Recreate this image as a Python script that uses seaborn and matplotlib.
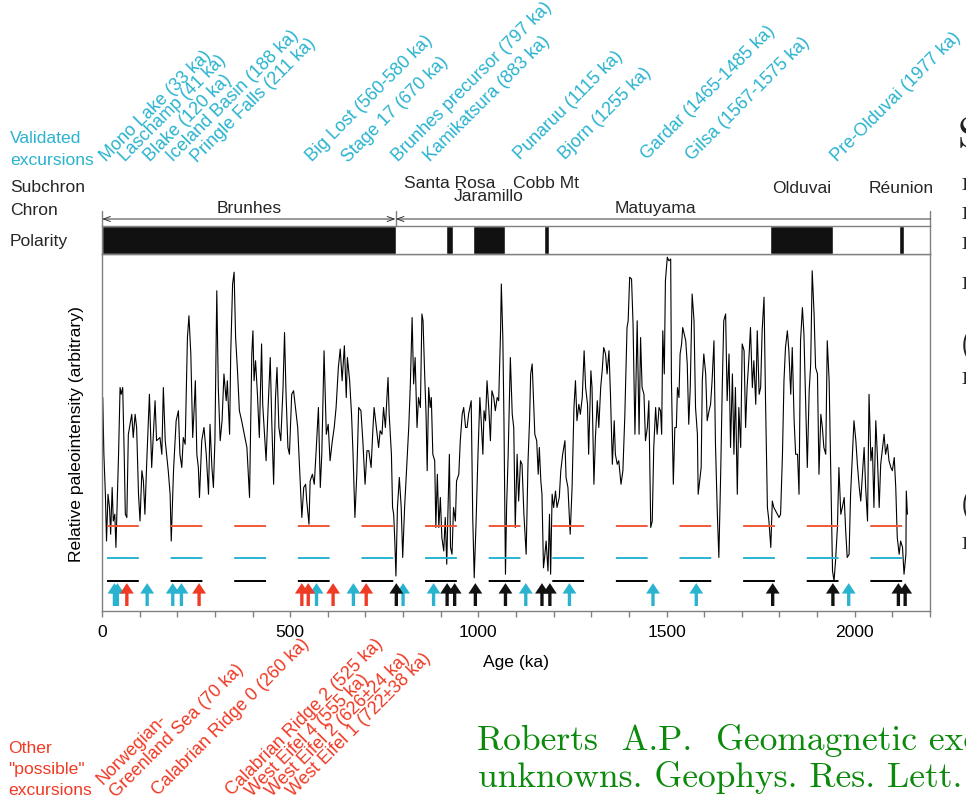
#%% Biblioteke
import numpy as np
import pandas as pd
import matplotlib
matplotlib.use('Agg')
import matplotlib.pyplot as plt
import matplotlib.transforms as mtransforms
from matplotlib.ticker import MultipleLocator
import seaborn as sns

#%% Podaci - relativni paleointenzitet (ocitano sa slike), po segmentima
age_a = [1, 2, 5, 9, 12, 16, 20, 23, 27, 30,
         34, 37, 41, 44, 48, 51, 55, 59, 62, 66,
         70, 79, 83, 88, 92, 97, 101, 106, 110, 114,
         119, 126, 132, 141, 145, 154, 159, 163, 168, 176,
         181, 184, 190, 197, 203, 207, 212, 216, 221, 227,
         231, 236, 241, 245, 248, 252, 256, 259, 265, 271,
         277, 283, 287, 292, 296, 300, 305, 309, 314, 319,
         324, 330, 333, 339, 342, 347, 351, 355, 360, 365,
         371, 378, 385, 392, 398, 401, 404, 408, 413, 418,
         424, 427, 433, 436, 441, 447, 451, 456, 461, 465,
         470, 475, 481, 485, 489, 494, 498, 504, 509, 514,
         520, 525, 531, 536, 541, 544, 550, 553, 559, 564,
         569, 575, 580, 584, 590, 596, 601, 606, 612, 617,
         622, 628, 633, 638, 644, 649, 652, 658, 663, 667,
         672, 677, 682, 688, 693, 699, 704, 709, 715, 720,
         723]
val_a = [3.74, 5.98, 4.39, 3.27, 1.96, 3.27, 2.90, 2.15, 3.46, 2.52,
         2.71, 1.78, 3.27, 4.39, 6.26, 6.07, 6.26, 4.39, 2.71, 2.62,
         4.95, 5.51, 4.86, 5.51, 5.14, 3.27, 2.52, 3.93, 3.64, 2.71,
         4.21, 6.07, 4.02, 5.89, 4.77, 4.86, 4.39, 6.26, 4.77, 3.93,
         3.27, 1.96, 3.93, 5.33, 5.61, 4.39, 4.02, 4.86, 4.67, 7.66,
         8.27, 7.20, 4.86, 5.70, 6.45, 4.39, 4.02, 3.18, 4.77, 5.14,
         4.39, 3.27, 5.23, 4.02, 3.46, 4.77, 8.97, 6.26, 4.77, 5.33,
         6.64, 5.89, 6.45, 4.95, 7.20, 9.16, 9.49, 7.66, 6.73, 5.61,
         5.33, 4.95, 4.58, 3.18, 7.20, 7.85, 6.45, 7.01, 6.07, 4.86,
         7.48, 5.79, 4.77, 4.21, 5.61, 7.10, 5.33, 3.55, 5.98, 6.82,
         5.14, 4.77, 6.26, 7.80, 6.07, 4.58, 4.39, 6.07, 6.17, 5.70,
         5.14, 4.02, 2.62, 3.46, 3.55, 3.08, 2.43, 3.64, 3.83, 3.55,
         4.49, 5.70, 3.46, 4.39, 7.29, 4.95, 5.23, 4.21, 4.77, 5.14,
         5.70, 6.82, 7.34, 6.45, 7.43, 5.98, 7.10, 6.45, 5.51, 4.39,
         2.62, 3.83, 5.70, 5.61, 4.77, 3.55, 4.49, 4.49, 4.02, 5.14,
         5.70]

age_b = [735, 739, 744, 748, 753, 757, 760, 763, 769, 772,
         775, 778, 781, 785, 790, 795, 799, 804, 810, 815,
         819, 824, 828, 832, 837, 841, 846, 850, 853, 857,
         861, 864, 868, 872, 875, 879, 884, 887, 891, 895,
         899, 903, 908, 912, 916, 919, 923, 926, 930, 934,
         939, 942, 948, 952, 957, 961, 966, 970, 974, 981,
         985, 989, 994, 999, 1004, 1008, 1012, 1015, 1019, 1023,
         1028, 1032, 1036, 1041, 1045, 1050, 1054, 1059, 1061, 1065,
         1068, 1072, 1075, 1079, 1083, 1085, 1090, 1094, 1098, 1103,
         1107, 1112, 1116, 1121, 1127, 1132, 1136, 1139, 1143, 1146,
         1150, 1155, 1159, 1162, 1166, 1169, 1173, 1176, 1180, 1185,
         1189, 1192, 1196, 1200, 1205, 1209, 1215, 1219, 1224, 1230,
         1233, 1238, 1244, 1249, 1254, 1258, 1262, 1267, 1271, 1276,
         1281, 1285, 1290, 1293, 1299, 1302, 1307, 1311, 1316, 1320,
         1325, 1329, 1333, 1338, 1342, 1347, 1351, 1356, 1361, 1364,
         1369, 1373, 1379, 1384, 1389, 1395, 1398, 1402, 1407, 1411,
         1416, 1422, 1427, 1431, 1435, 1440, 1444, 1449, 1453, 1458,
         1462, 1466, 1471]
val_b = [4.58, 5.05, 4.95, 5.70, 5.14, 5.98, 6.54, 5.51, 4.39, 2.90,
         2.71, 1.96, 0.98, 2.90, 3.74, 2.90, 1.50, 2.90, 4.11, 5.14,
         6.26, 8.22, 6.36, 7.10, 5.14, 5.98, 5.70, 8.32, 8.13, 6.73,
         5.51, 3.93, 6.26, 5.70, 5.98, 4.39, 4.21, 2.34, 3.83, 2.34,
         3.18, 2.06, 1.68, 2.62, 1.31, 2.71, 4.39, 1.78, 1.59, 2.90,
         2.52, 3.64, 3.83, 4.77, 5.51, 5.70, 5.14, 5.14, 5.51, 5.89,
         2.62, 0.93, 2.52, 4.39, 5.98, 5.23, 4.39, 5.61, 5.33, 6.45,
         5.61, 4.77, 6.17, 5.98, 5.61, 5.98, 5.89, 7.85, 9.16, 7.66,
         5.33, 1.03, 2.90, 4.30, 6.17, 7.10, 5.51, 5.14, 2.34, 4.39,
         3.08, 4.21, 4.11, 2.71, 1.59, 4.21, 5.33, 6.64, 6.92, 6.07,
         4.95, 4.77, 3.83, 4.58, 3.64, 3.27, 1.21, 1.50, 1.96, 1.12,
         2.71, 1.03, 3.27, 2.90, 3.36, 2.90, 3.18, 3.93, 4.39, 4.77,
         3.74, 3.46, 2.15, 3.46, 5.70, 6.45, 5.33, 5.79, 5.51, 5.98,
         7.29, 6.26, 5.79, 4.39, 6.73, 6.26, 3.55, 4.86, 5.89, 5.14,
         6.26, 6.73, 7.38, 7.20, 6.64, 7.29, 6.07, 4.11, 5.33, 4.39,
         4.11, 4.21, 3.55, 3.93, 5.42, 7.94, 8.13, 9.35, 9.30, 8.04,
         4.95, 8.13, 4.95, 7.66, 6.26, 6.07, 4.77, 5.14, 5.89, 2.34,
         2.52, 4.58, 5.70]

age_c = [1475, 1480, 1484, 1487, 1490, 1494, 1497, 1502, 1506, 1511,
         1513, 1518, 1522, 1526, 1529, 1533, 1536, 1540, 1543, 1547,
         1551, 1555, 1559, 1563, 1568, 1573, 1577, 1582, 1584, 1588,
         1592, 1595, 1599, 1604, 1608, 1613, 1617, 1621, 1626, 1630,
         1635, 1639, 1644, 1648, 1652, 1657, 1661, 1666, 1670, 1675,
         1679, 1683, 1688, 1692, 1697, 1701, 1706, 1710, 1714, 1719,
         1723, 1728, 1732, 1737, 1741, 1746, 1750, 1754, 1759, 1763,
         1768, 1772, 1777, 1781, 1785, 1790, 1799, 1803, 1808, 1812,
         1816, 1821, 1825, 1830, 1834, 1839, 1843, 1848, 1852, 1856,
         1861, 1865, 1870, 1874, 1879, 1883, 1887, 1892, 1896, 1901,
         1905, 1910, 1914, 1918, 1923, 1927, 1932, 1936, 1941, 1945,
         1949, 1954, 1958, 1963, 1967, 1972, 1976, 1980, 1985, 1989,
         1994, 1998, 2003, 2007, 2012, 2016, 2020, 2025, 2029, 2034,
         2038, 2043, 2047, 2051, 2056, 2060, 2065, 2069, 2074, 2078,
         2082, 2087, 2091, 2096, 2100, 2105, 2109, 2113, 2118, 2122,
         2127, 2131, 2136, 2137, 2140]
val_c = [4.95, 5.70, 5.61, 4.95, 7.85, 6.64, 9.25, 9.91, 9.81, 9.86,
         6.45, 3.55, 5.14, 5.14, 6.26, 5.98, 7.20, 7.48, 7.94, 7.76,
         7.57, 6.92, 5.23, 6.26, 8.88, 8.13, 5.70, 4.95, 3.27, 3.64,
         4.02, 6.45, 7.20, 6.64, 5.33, 5.61, 5.79, 6.45, 7.57, 4.67,
         2.71, 1.50, 3.93, 6.26, 8.13, 8.32, 5.89, 7.20, 4.58, 6.64,
         4.39, 6.26, 3.27, 5.70, 4.58, 7.48, 7.29, 5.14, 6.26, 7.10,
         7.94, 6.26, 7.01, 5.79, 7.85, 6.07, 6.26, 7.85, 8.79, 5.89,
         2.90, 2.52, 1.78, 3.08, 2.90, 2.80, 2.62, 2.71, 4.39, 6.45,
         7.38, 7.85, 7.29, 6.07, 7.38, 5.33, 4.39, 4.39, 3.27, 7.57,
         8.50, 7.76, 5.70, 4.02, 6.17, 6.92, 9.53, 8.32, 6.82, 6.64,
         3.83, 5.51, 5.14, 4.58, 4.39, 7.57, 6.45, 4.02, 1.12, 0.84,
         1.40, 2.34, 4.02, 2.71, 2.90, 3.18, 2.24, 1.50, 1.59, 3.27,
         4.39, 5.33, 4.77, 4.11, 3.46, 3.08, 3.74, 4.58, 3.46, 2.52,
         6.07, 4.21, 4.58, 2.90, 5.33, 4.39, 2.90, 4.11, 4.58, 4.95,
         4.39, 4.67, 4.21, 4.02, 3.93, 4.30, 3.46, 2.06, 1.59, 1.96,
         1.78, 1.03, 1.59, 3.36, 2.71]

assert len(age_a) == len(val_a) and len(age_b) == len(val_b) and len(age_c) == len(val_c)
df = pd.DataFrame({'age': age_a + age_b + age_c, 'pi': val_a + val_b + val_c})

#%% Polaritet, hronovi, subhronovi
normal_start = [0, 914, 986, 1174, 1776, 2117]
normal_end = [780, 932, 1071, 1188, 1941, 2131]

chron_names = ['Brunhes', 'Matuyama']
chron_start = [0, 780]
chron_end = [780, 2160]

subchron_names = ['Santa Rosa', 'Jaramillo', 'Cobb Mt', 'Olduvai', 'Réunion']
subchron_start = [914, 986, 1174, 1776, 2117]
subchron_end = [932, 1071, 1188, 1941, 2131]

#%% Ekskurzije i reverzije (strelice)
validated_names = ['Mono Lake (33 ka)', 'Laschamp (41 ka)', 'Blake (120 ka)',
                   'Iceland Basin (188 ka)', 'Pringle Falls (211 ka)',
                   'Big Lost (560-580 ka)', 'Stage 17 (670 ka)',
                   'Brunhes precursor (797 ka)', 'Kamikatsura (883 ka)',
                   'Punaruu (1115 ka)', 'Bjorn (1255 ka)', 'Gardar (1465-1485 ka)',
                   'Gilsa (1567-1575 ka)', 'Pre-Olduvai (1977 ka)']
validated_age = [33, 41, 120, 188, 211, 570, 668, 800, 881, 1126, 1242, 1464, 1579, 1984]

possible_names = ['Norwegian-', 'Greenland Sea (70 ka)', 'Calabrian Ridge 0 (260 ka)',
                  'Calabrian Ridge 2 (525 ka)', 'West Eifel 4 (555 ka)',
                  'West Eifel 2 (626±24 ka)', 'West Eifel 1 (722±38 ka)']
possible_age = [66, 258, 531, 548, 614, 702]

reversal_age = [782, 917, 937, 992, 1072, 1169, 1190, 1782, 1942, 2116, 2134]

# pragovi (isprekidane linije)
levels = [2.38, 1.48, 0.84]

#%% Raspored (pikseli slike 966x803)
W, H = 966, 803
fx = lambda px: px / W
fy = lambda py: 1 - py / H

val_anchor = [(106, 162), (125, 162), (150, 162), (173, 162), (197, 163),
              (312, 162), (348, 163), (398, 162), (430, 162), (520, 160),
              (565, 160), (647, 160), (692, 161), (837, 162)]
pos_anchor = [(103, 785), (116, 798), (158, 796), (232, 796), (252, 797),
              (272, 797), (293, 797)]
sub_baseline = [188, 201, 188, 193, 193]

CYAN = '#2ab3cf'
RED = '#ef3a25'
RED_LINE = '#f0583a'
GRAY = '#808080'
FS = 12.6
FS_ROT = 12.9

sns.set_theme(style='ticks')
plt.rcParams['font.family'] = ['Liberation Sans', 'DejaVu Sans']
plt.rcParams['lines.scale_dashes'] = False

fig = plt.figure(figsize=(W / 100, H / 100), dpi=100)

#%% Glavni grafik
ax = fig.add_axes([fx(102), fy(612), (930 - 102) / W, (612 - 255) / H])
sns.lineplot(data=df, x='age', y='pi', ax=ax, color='black', lw=0.8,
             estimator=None, sort=False)
ax.set_xlim(0, 2200)
ax.set_ylim(0, 10)
ax.set_yticks([])
ax.set_xticks([0, 500, 1000, 1500, 2000])
ax.xaxis.set_minor_locator(MultipleLocator(100))
ax.tick_params(axis='x', which='both', direction='out', length=4.3, width=1.0,
               color=GRAY, labelsize=FS, pad=5, labelcolor='black')
for s in ax.spines.values():
    s.set_color(GRAY)
    s.set_linewidth(1.0)
    s.set_visible(True)
ax.set_xlabel('Age (ka)', fontsize=FS, labelpad=10.5, color='black')
ax.set_ylabel('Relative paleointensity (arbitrary)', fontsize=FS, color='black')
ax.yaxis.set_label_coords(-18 / 828, 0.5)

for lvl, c in zip(levels, [RED_LINE, CYAN, 'black']):
    ax.plot([13, 2133], [lvl, lvl], color=c, lw=1.4, dashes=(22.9, 22.9))

tip, tail = 0.78, 0.14
def arrows(ages, color):
    for a in ages:
        ax.annotate('', xy=(a, tip), xytext=(a, tail), annotation_clip=False,
                    arrowprops=dict(arrowstyle='simple,head_length=0.75,head_width=1.0,tail_width=0.24',
                                    fc=color, ec='none', mutation_scale=10,
                                    shrinkA=0, shrinkB=0))
arrows(validated_age, CYAN)
arrows(possible_age, RED)
arrows(reversal_age, '#111111')

#%% Polaritet
ax_pol = fig.add_axes([fx(102), fy(255), (930 - 102) / W, 28 / H])
ax_pol.broken_barh([(s, e - s) for s, e in zip(normal_start, normal_end)], (0, 1),
                   facecolors='#111111')
ax_pol.set_xlim(0, 2200)
ax_pol.set_ylim(0, 1)
ax_pol.set_xticks([])
ax_pol.set_yticks([])
for s in ax_pol.spines.values():
    s.set_color(GRAY)
    s.set_linewidth(1.0)

trans = mtransforms.blended_transform_factory(ax_pol.transData, fig.transFigure)
for xv in [0, 780, 2200]:
    ax_pol.plot([xv, xv], [fy(212), fy(227)], color=GRAY, lw=1.0,
                transform=trans, clip_on=False)
ax_pol.annotate('', xy=(0, fy(220)), xytext=(780, fy(220)), xycoords=trans, textcoords=trans,
                arrowprops=dict(arrowstyle='<->,head_length=0.5,head_width=0.18', lw=0.7,
                                color='#333333', shrinkA=0, shrinkB=0, mutation_scale=10))
ax_pol.annotate('', xy=(780, fy(220)), xytext=(2200, fy(220)), xycoords=trans, textcoords=trans,
                arrowprops=dict(arrowstyle='->,head_length=0.5,head_width=0.18', lw=0.7,
                                color='#333333', shrinkA=0, shrinkB=0, mutation_scale=10))

for name, s, e in zip(chron_names, chron_start, chron_end):
    ax_pol.text((s + e) / 2, fy(213), name, transform=trans, ha='center',
                va='baseline', fontsize=FS)
for name, s, e, b in zip(subchron_names, subchron_start, subchron_end, sub_baseline):
    ax_pol.text((s + e) / 2, fy(b), name, transform=trans, ha='center',
                va='baseline', fontsize=FS)

#%% Tekstovi levo
fig.text(fx(10), fy(246), 'Polarity', fontsize=FS, va='baseline')
fig.text(fx(10), fy(215), 'Chron', fontsize=FS, va='baseline')
fig.text(fx(10), fy(192), 'Subchron', fontsize=FS, va='baseline')
fig.text(fx(10), fy(143), 'Validated', fontsize=FS, va='baseline', color=CYAN)
fig.text(fx(10), fy(165), 'excursions', fontsize=FS, va='baseline', color=CYAN)
for txt, b in zip(['Other', '"possible"', 'excursions'], [753, 774, 795]):
    fig.text(fx(8), fy(b), txt, fontsize=FS, va='baseline', color=RED)

for name, (px, py) in zip(validated_names, val_anchor):
    fig.text(fx(px), fy(py), name, rotation=45, rotation_mode='anchor',
             ha='left', va='baseline', fontsize=FS_ROT, color=CYAN)
for name, (px, py) in zip(possible_names, pos_anchor):
    fig.text(fx(px), fy(py), name, rotation=45, rotation_mode='anchor',
             ha='left', va='baseline', fontsize=FS_ROT, color=RED)

#%% Citat i ostaci susedne kolone (odseceni na desnoj ivici)
fig.text(fx(477), fy(750), 'Roberts  A.P.  Geomagnetic excursions', fontfamily='cmr10',
         fontsize=25.6, color='#0b8a0b', va='baseline')
fig.text(fx(478), fy(787), 'unknowns. Geophys. Res. Lett.', fontfamily='cmr10',
         fontsize=25.6, color='#0b8a0b', va='baseline')

fig.text(fx(958), fy(148), 'S', fontfamily='cmr10', fontsize=30, color='#222222',
         va='baseline', fontweight='bold')
for b in [190, 219, 249, 289, 384, 549]:
    fig.text(fx(962), fy(b), 'I', fontfamily='cmr10', fontsize=13, color='#222222',
             va='baseline')
for b in [354, 514]:
    fig.text(fx(960), fy(b), '(', fontfamily='cmr10', fontsize=24, color='#222222',
             va='baseline')

fig.savefig('out.png', dpi=100)
